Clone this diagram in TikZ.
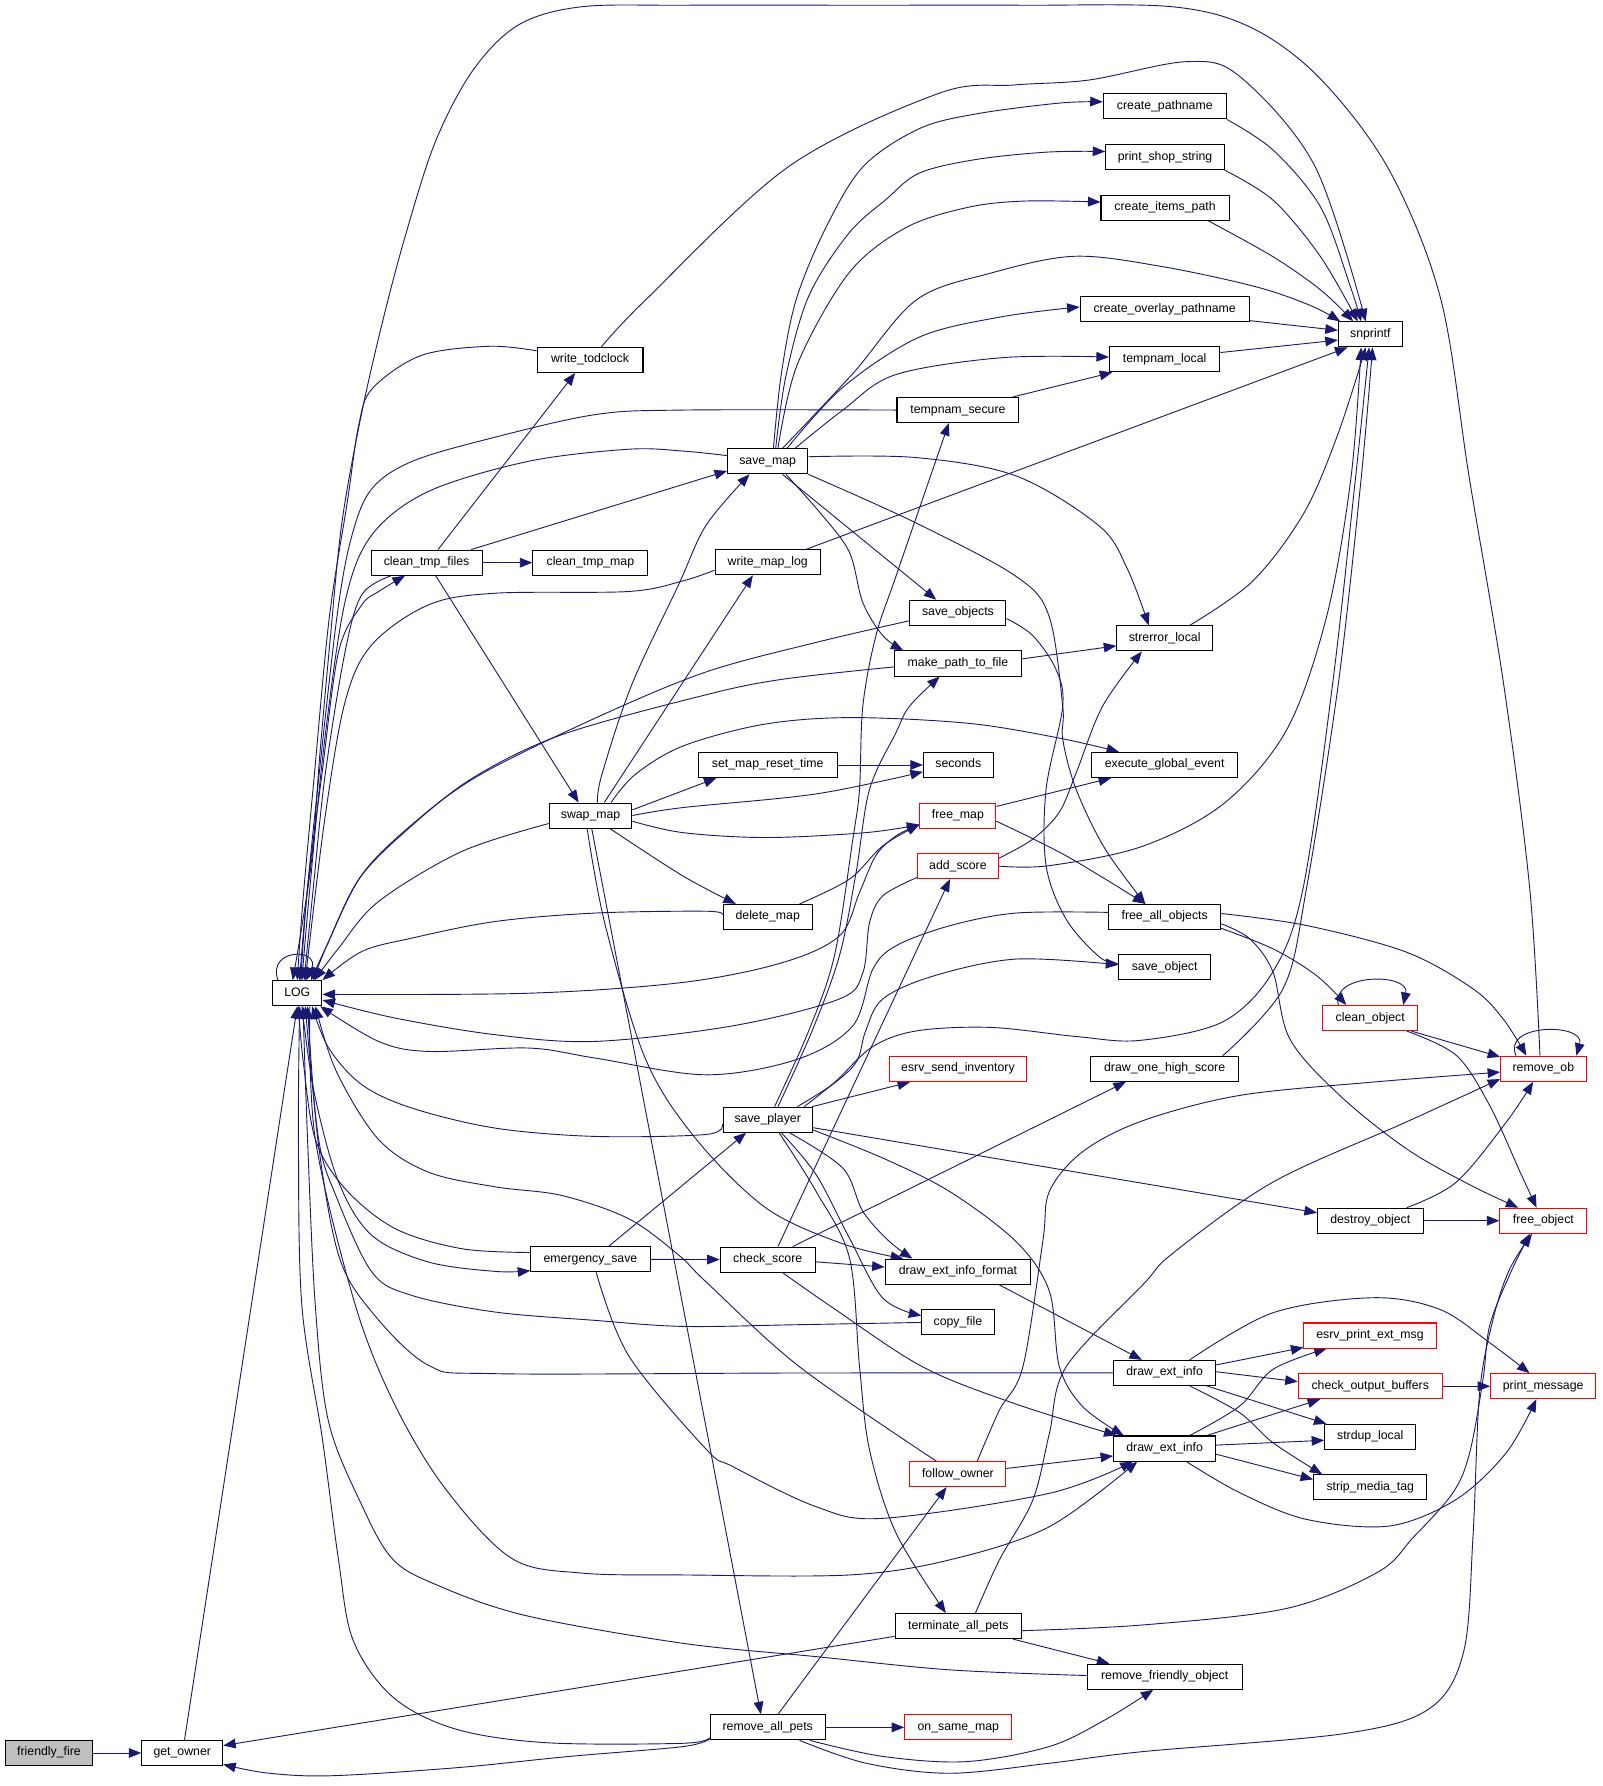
\documentclass[tikz,border=0pt]{standalone}
\usepackage{fontspec}
\setmainfont{Liberation Sans}
\usetikzlibrary{arrows.meta}
\pgfdeclarelayer{bg}
\pgfdeclarelayer{canvas}
\pgfsetlayers{canvas,bg,main}
\definecolor{navy}{HTML}{191970}
\definecolor{gfill}{HTML}{BFBFBF}
\newcommand\edgeP[1]{\draw[e] plot[smooth,tension=0.55] coordinates {#1};}
\begin{document}
\begin{tikzpicture}[x=1pt,y=-1pt,
 box/.style={draw=black, line width=0.9pt, fill=white, minimum height=22pt, inner sep=0pt, text height=7.8pt, text depth=2.6pt, font=\fontsize{10.8}{12}\selectfont},
 rbox/.style={box, draw=red},
 e/.style={draw=navy, line width=0.8pt, line join=round, -{Triangle[length=11pt,width=8.5pt]}}
]
\begin{pgfonlayer}{canvas}
\fill[white] (0,0) rectangle (1407,1568);
\end{pgfonlayer}
\useasboundingbox (0,0) rectangle (1407,1568);
% nodes
\node[box, fill=gfill, minimum width=76pt] (ff) at (43,1539) {friendly\_fire};
\node[box, minimum width=71pt] (go) at (160,1539) {get\_owner};
\node[box, minimum width=43.3pt] (LOG) at (261,872) {LOG};
\node[box, minimum width=93pt] (wtc) at (518,316) {write\_todclock};
\node[box, minimum width=97.4pt] (ctf) at (374.5,494) {clean\_tmp\_files};
\node[box, minimum width=101pt] (ctm) at (518.3,494) {clean\_tmp\_map};
\node[box, minimum width=70.5pt] (smap) at (674,405) {save\_map};
\node[box, minimum width=92.4pt] (wml) at (674,493.6) {write\_map\_log};
\node[box, minimum width=72.5pt] (swap) at (518.5,716) {swap\_map};
\node[box, minimum width=122pt] (smrt) at (674,671.6) {set\_map\_reset\_time};
\node[box, minimum width=78.4pt] (dmap) at (674,805) {delete\_map};
\node[box, minimum width=78.4pt] (sp) at (674,983) {save\_player};
\node[box, minimum width=104.8pt] (es) at (518.4,1105.6) {emergency\_save};
\node[box, minimum width=83.3pt] (cs) at (674,1105.8) {check\_score};
\node[box, minimum width=101pt] (rap) at (674,1516.5) {remove\_all\_pets};
\node[box, minimum width=108pt] (cp) at (1022.6,93.4) {create\_pathname};
\node[box, minimum width=104pt] (pss) at (1022.8,138) {print\_shop\_string};
\node[box, minimum width=112.4pt] (cip) at (1022.8,182.4) {create\_items\_path};
\node[box, minimum width=148.5pt] (cop) at (1022.5,271.5) {create\_overlay\_pathname};
\node[box, minimum width=97pt] (tl) at (1022.5,315.5) {tempnam\_local};
\node[box, minimum width=107pt] (ts) at (841,360) {tempnam\_secure};
\node[box, minimum width=56pt] (snp) at (1203,293.6) {snprintf};
\node[box, minimum width=84.3pt] (sobjs) at (841,538) {save\_objects};
\node[box, minimum width=111.4pt] (mptf) at (841,582.5) {make\_path\_to\_file};
\node[box, minimum width=84pt] (sl) at (1022.5,560.5) {strerror\_local};
\node[box, minimum width=61.2pt] (sec) at (841.3,671.6) {seconds};
\node[box, minimum width=128.6pt] (ege) at (1022.5,671.6) {execute\_global\_event};
\node[rbox, minimum width=66.7pt] (fm) at (841,716) {free\_map};
\node[rbox, minimum width=71.2pt] (as) at (841,760.4) {add\_score};
\node[box, minimum width=98.4pt] (fao) at (1022.5,805) {free\_all\_objects};
\node[box, minimum width=80.4pt] (sobj) at (1022.5,849) {save\_object};
\node[rbox, minimum width=120.5pt] (esi) at (841,938.5) {esrv\_send\_inventory};
\node[box, minimum width=129.4pt] (dohs) at (1022.5,938.3) {draw\_one\_high\_score};
\node[rbox, minimum width=83.3pt] (co) at (1203,893.8) {clean\_object};
\node[rbox, minimum width=75pt] (rob) at (1355,938.3) {remove\_ob};
\node[box, minimum width=92.7pt] (dobj) at (1203,1071.7) {destroy\_object};
\node[rbox, minimum width=76.3pt] (fobj) at (1355,1071.7) {free\_object};
\node[box, minimum width=127.8pt] (dxif) at (841,1116.4) {draw\_ext\_info\_format};
\node[box, minimum width=63.4pt] (cf) at (841,1161) {copy\_file};
\node[box, minimum width=89.6pt] (dei1) at (1022.5,1205.3) {draw\_ext\_info};
\node[box, minimum width=89.6pt] (dei2) at (1022.5,1271.7) {draw\_ext\_info};
\node[rbox, minimum width=84.3pt] (fo) at (841,1294.2) {follow\_owner};
\node[rbox, minimum width=116pt] (epem) at (1202.8,1172.5) {esrv\_print\_ext\_msg};
\node[rbox, minimum width=126.4pt] (cob) at (1203,1217) {check\_output\_buffers};
\node[rbox, minimum width=92.2pt] (pm) at (1354.8,1217) {print\_message};
\node[box, minimum width=80pt] (sdl) at (1203,1261.5) {strdup\_local};
\node[box, minimum width=99.5pt] (smt) at (1203,1305.8) {strip\_media\_tag};
\node[box, minimum width=111.1pt] (tap) at (841.4,1427.6) {terminate\_all\_pets};
\node[box, minimum width=136.2pt] (rfo) at (1022.5,1472) {remove\_friendly\_object};
\node[rbox, minimum width=94pt] (osm) at (841.3,1516.5) {on\_same\_map};
% edges
\begin{pgfonlayer}{bg}
\draw[e] (ff.east) -- (go.west);
\draw[e] ([xshift=2pt]go.north) -- (LOG.south);
\draw[e] ([xshift=-17pt]LOG.north) .. controls (234,832) and (282,832) .. ([xshift=8pt]LOG.north);
\edgeP{([xshift=3pt]LOG.north) (270,780) (282.6,680) (297.3,572) (317.7,531) (332.4,519.3) ([xshift=-19pt]ctf.south)}
\edgeP{([xshift=-31pt]ctf.south) (317.7,522) (303,572) (285.5,680) (275,780) ([xshift=6pt]LOG.north)}
\draw[e] ([xshift=10pt]ctf.north) -- ([xshift=-13pt]wtc.south);
\draw[e] (ctf.east) -- (ctm.west);
\draw[e] ([xshift=39pt]ctf.north) -- ([yshift=3pt]smap.south west);
\draw[e] ([xshift=8pt]ctf.south) -- ([xshift=-10.5pt]swap.north);
\edgeP{([yshift=8pt]wtc.west) (430,304) (370,312) (327,341) (315,373) (305,440) (289,543) (276,680) (266,790) (LOG.north)}
\edgeP{([xshift=10pt]wtc.north) (566.8,263.3) (692.3,146.3) (824.4,81.9) (890.4,74.6) (956.5,70.2) (1042.3,54.1) (1088.6,67.3) (1154.6,146.3) ([xshift=-4pt]snp.north)}
\edgeP{([xshift=-3pt]rob.north) (1343,780) (1320,600) (1290,420) (1265,263) (1220,150) (1160,70) (1100,25) (1030,6) (900,4.6) (765,4.6) (600,4.6) (510,6) (455,22) (415,62) (382,125) (355,210) (334,290) (316,370) (300,460) (290,560) (281,660) (273,760) ([xshift=-4pt]LOG.north)}
\edgeP{([xshift=5pt]smap.north) (686,328) (699,263) (725,200) (758,146) (807,113) (857,100) (930,90.5) ([yshift=4pt]cp.west)}
\edgeP{([xshift=7pt]smap.north) (690,330) (710,260) (745,205) (778,175) (807,152) (857,140) (920,133.5) ([yshift=5pt]pss.west)}
\edgeP{([xshift=9pt]smap.north) (700,320) (745,240) (795,200) (850,182) (900,176.5) ([yshift=5pt]cip.west)}
\edgeP{([xshift=13pt]smap.north) (748.7,328) (804.5,263.3) (869,240) (943,225) (1020,234) (1102,251.6) (1150,268) ([xshift=2pt]snp.north west)}
\edgeP{([xshift=17pt]smap.north) (740,340) (807,296) (880,278) ([yshift=2pt]cop.west)}
\edgeP{([xshift=24pt]smap.north) (740,360) (786,329) (880,314) ([yshift=2pt]tl.west)}
\draw[e] ([xshift=48pt]ts.north) -- ([xshift=-46pt]tl.south);
\edgeP{(ts.west) (600,360) (522.5,364) (430,385) (362,405) (326.5,429) (309,470) (296,540) (278,700) (268,800) ([xshift=2pt]LOG.north)}
\edgeP{([yshift=5pt]smap.west) (599.5,396) (551.8,394.4) (464,405) (376,431.5) (326.5,469.6) (303,528) (285,650) (272,780) ([xshift=4pt]LOG.north)}
\draw[e] ([xshift=13pt]smap.south) -- ([xshift=-19pt]sobjs.north);
\edgeP{([xshift=16pt]smap.south) (722.4,453) (745.8,485) (757.5,529) (775,558) ([xshift=-48pt]mptf.north)}
\edgeP{(smap.south east) (804,459) (892,506) (921,541) (933,620) (933,649) (944.7,692.8) (970,745) ([xshift=-17pt]fao.north)}
\edgeP{([yshift=4pt]smap.east) (804,401.7) (892,417.8) (965,461.7) (990,500) ([xshift=-14pt]sl.north)}
\draw[e] ([xshift=34pt]wml.north) -- ([xshift=-20pt]snp.south);
\edgeP{([yshift=-7pt]wml.west) (599.5,510) (551.8,519.3) (434.8,520.8) (376.3,531) (326.5,566) (303,616) (285,720) ([xshift=7pt]LOG.north)}
\edgeP{([xshift=6pt]swap.north) (528.4,680) (554.7,601) (595.7,513.5) (620,461) ([xshift=-16pt]smap.south)}
\draw[e] ([xshift=12pt]swap.north) -- ([xshift=-13pt]wml.south);
\edgeP{([xshift=18pt]swap.north) (557.6,680) (599.5,655) (670,636) (746,630) (850,635) (930,648) ([xshift=-40pt]ege.north)}
\draw[e] ([yshift=5pt]swap.east) -- ([xshift=-45pt]smrt.south);
\edgeP{(swap.east) (599.5,709) (716.5,697) ([yshift=-6pt]sec.west)}
\edgeP{([yshift=-5pt]swap.east) (599.5,731) (672.6,735.3) (760,731) ([yshift=-8pt]fm.west)}
\edgeP{([xshift=17pt]swap.south) (599.5,769) ([xshift=-28pt]dmap.north)}
\edgeP{([yshift=-7pt]swap.west) (405.5,747.5) (332.4,791.4) (297.3,832.4) ([xshift=15pt]LOG.north)}
\draw[e] ([xshift=1pt]swap.south) -- ([xshift=-6pt]rap.north);
\edgeP{([xshift=-3pt]swap.south) (531.3,812) (566.4,929) (610.3,999) (672.6,1060.6) (740,1092) ([xshift=-48pt]dxif.north)}
\draw[e] (smrt.east) -- (sec.west);
\edgeP{([xshift=28pt]dmap.north) (745.8,771.8) (775,742.6) ([yshift=-8pt]fm.west)}
\edgeP{([yshift=2pt]dmap.west) (619.7,800) (522.5,801.6) (434.8,809) (361.6,823.6) (317.7,835.3) (LOG.north east)}
\draw[e] ([yshift=8pt]fm.east) -- ([xshift=-47pt]ege.south);
\edgeP{([yshift=-5pt]fm.east) (935.9,751.3) ([xshift=-17pt]fao.north)}
\edgeP{([yshift=-8pt]fm.west) (786.7,733.8) (769,751) (754.6,783.5) (737,821.6) (687.3,845) (599.5,862.5) (464,872) ([yshift=-1pt]LOG.east)}
\edgeP{([yshift=7pt]as.east) (906.7,736.7) (930,713) (945,678) (968,620) ([xshift=-20pt]sl.south)}
\edgeP{(as.east) (921,760) (1003,743) (1075,705) (1130,640) (1165,540) (1186,420) ([xshift=-8pt]snp.south)}
\edgeP{([yshift=-10pt]as.west) (775,786.5) (763.4,810) (757.5,854) (737,877) (643.4,900.6) (522.5,914.3) (434.8,908.4) (347,893.8) ([yshift=-6pt]LOG.east)}
\edgeP{([yshift=4pt]fao.west) (892,801.6) (833.6,812.8) (786.7,830.3) (766.3,850.8) (748.7,900.6) (700,930) (619.7,943.6) (522.5,928.9) (464,920.1) (376.3,923.1) (332.4,914.3) ([xshift=-2pt]LOG.south east)}
\edgeP{([yshift=-10pt]fao.east) (1117.6,833) (1155.7,856.4) ([xshift=-21pt]co.north)}
\edgeP{([yshift=3pt]fao.east) (1146.9,812.5) (1234.7,835.9) (1293.2,868.1) (1320,895) ([xshift=-15pt]rob.north)}
\edgeP{([yshift=-6pt]fao.east) (1097.2,824.2) (1117.6,853.4) (1132.3,912) (1176.2,961.7) (1234.7,1008.5) (1290,1040) ([xshift=-22pt]fobj.north)}
\draw[e] ([xshift=-28pt]co.north) .. controls (1168,854) and (1238,854) .. ([xshift=29pt]co.north);
\draw[e] ([xshift=-6pt]co.south east) -- ([yshift=-1pt]rob.north west);
\edgeP{([xshift=-10pt]co.south east) (1278.6,926.6) (1307.8,970.5) (1335,1030) ([xshift=-6pt]fobj.north)}
\draw[e] ([xshift=-24pt]rob.north) .. controls (1318,898) and (1392,898) .. ([xshift=29pt]rob.north);
\edgeP{([xshift=32pt]dobj.north) (1278.6,1037.8) (1322.5,985) ([xshift=-9pt]rob.south)}
\draw[e] (dobj.east) -- (fobj.west);
\edgeP{([yshift=-7pt]sobjs.west) (716.5,564) (619.7,590) (522.5,630.5) (420,681) (361.6,724) (317.7,768) (288.5,826.5) ([xshift=14pt]LOG.north)}
\edgeP{([yshift=-3pt]mptf.west) (687.3,596.3) (619.7,610) (493.3,645) (415,683) (358,728) (315,772) (287,830) ([xshift=12pt]LOG.north)}
\draw[e] ([yshift=4pt]mptf.east) -- ([yshift=-6.5pt]sl.west);
\edgeP{([xshift=22pt]sl.north) (1100,510) (1145,450) (1175,380) ([xshift=-4pt]snp.south)}
\edgeP{([yshift=-5pt]sobjs.east) (906.7,558) (927,587.5) (933,620) (918.4,692.8) (918.4,760) (936,807) (965,840) ([yshift=3pt]sobj.west)}
\edgeP{([xshift=26pt]sp.north) (731,952) (752,932) (760,905) (775,877) (819,857) (892,842) ([yshift=2pt]sobj.west)}
\edgeP{([xshift=32pt]sp.north) (733,950) (766,919) (805,905) (870,902) (945,910) (1000.6,913.4) (1073.7,897) (1117.6,853) (1144,780) (1170,600) (1190,420) ([xshift=-1pt]snp.south)}
\edgeP{([xshift=51pt]dohs.north) (1126.4,868) (1147,780) (1175,600) (1195,420) ([xshift=2pt]snp.south)}
\edgeP{([xshift=6pt]sp.north) (710,905) (732.6,839) (748.7,737) (754.6,693) (757.5,620) (769,558) (786.7,505.6) ([xshift=-8pt]ts.south)}
\edgeP{([xshift=9pt]sp.north) (713,905) (737,839) (751.6,766) (763.4,693) (786.7,643) (798.5,620) ([xshift=-16pt]mptf.south)}
\draw[e] ([xshift=39pt]sp.north) -- ([xshift=-42pt]esi.south);
\draw[e] ([yshift=-7pt]sp.east) -- ([yshift=7pt]dobj.west);
\edgeP{([yshift=-9pt]sp.east) (775,1016.7) (833.6,1046) (892,1090) (921.3,1133.7) (930,1199.6) (950.6,1235) ([xshift=-36pt]dei2.north)}
\edgeP{([xshift=19pt]sp.south) (739.9,1025.5) (757.5,1063.5) (780.9,1090) ([xshift=-40pt]dxif.north)}
\edgeP{([xshift=12pt]sp.south) (716.5,1031.3) (745.8,1087) (775,1139.6) ([yshift=6pt]cf.west)}
\edgeP{([xshift=10pt]sp.south) (716.5,1046) (745.8,1104.5) (754.6,1199.6) (763.4,1273) (786.7,1346) ([xshift=-11pt]tap.north)}
\edgeP{([yshift=-4pt]sp.west) (619.7,996) (522.5,997.7) (434.8,990.4) (361.6,972.8) (317.7,952.3) (288.5,920) ([xshift=13pt]LOG.south)}
\draw[e] (es.east) -- (cs.west);
\draw[e] ([yshift=-2pt]cs.east) -- ([yshift=4pt]dxif.west);
\draw[e] ([xshift=22pt]cs.north) -- ([xshift=-34pt]dohs.south);
\draw[e] ([xshift=9pt]cs.north) -- ([xshift=-7pt]as.south);
\edgeP{([xshift=13pt]cs.south) (731,1148) (810,1200) (890,1232) ([xshift=3pt]dei2.north west)}
\draw[e] ([xshift=16pt]es.north) -- ([xshift=-19pt]sp.south);
\edgeP{([yshift=6pt]es.west) (405.5,1096.3) (347,1078.7) (303,1043.6) (276.8,1000) (266,930) ([xshift=1pt]LOG.south)}
\edgeP{([xshift=4pt]LOG.south) (276,960) (297.3,1037.8) (326.5,1084.6) (376.3,1108) (434.8,1116.2) ([yshift=-10pt]es.west)}
\edgeP{([xshift=5pt]es.south) (551.8,1190) (619.7,1272) (643.4,1287.6) (716.5,1322.8) (775,1333) (921.3,1311) ([xshift=-28pt]dei2.south)}
\edgeP{(cf.west) (700,1163) (599.5,1164.5) (522.5,1159.2) (434.8,1151.9) (361.6,1137.3) (326.5,1116.8) (295,1050) (279.7,1000) ([xshift=7pt]LOG.south)}
\draw[e] ([xshift=36pt]dxif.south) -- ([xshift=-20pt]dei1.north);
\edgeP{(dei1.west) (700,1205.4) (434.8,1206) (376.3,1198.7) (326.5,1151.9) (297.3,1102) (279,1000) ([xshift=9pt]LOG.south)}
\draw[e] ([yshift=7pt]dei1.east) -- ([yshift=1pt]epem.south west);
\draw[e] ([yshift=1pt]dei1.east) -- ([yshift=4pt]cob.west);
\draw[e] ([xshift=37pt]dei1.south) -- ([xshift=2pt]sdl.north west);
\edgeP{([xshift=22pt]dei1.south) (1088.4,1240.3) (1117.6,1266.6) ([xshift=8pt]smt.north west)}
\edgeP{([xshift=22pt]dei1.north) (1117.6,1152.5) (1205.4,1139.3) (1263.9,1149.5) (1307.8,1178.8) ([xshift=-12pt]pm.north)}
\edgeP{([xshift=22pt]dei2.north) (1088.4,1234.4) (1117.6,1202.2) ([xshift=-38pt]epem.south)}
\draw[e] ([xshift=37pt]dei2.north) -- ([xshift=-44pt]cob.south);
\draw[e] ([yshift=3pt]dei2.east) -- ([yshift=-3pt]sdl.west);
\draw[e] ([yshift=-5pt]dei2.east) -- ([yshift=7pt]smt.west);
\edgeP{([xshift=19pt]dei2.south) (1088.4,1310.5) (1146.9,1333.9) (1220,1339.7) (1278.6,1316.3) (1322.5,1275.3) ([xshift=-6pt]pm.south)}
\draw[e] (cob.east) -- (pm.west);
\draw[e] ([yshift=5pt]fo.east) -- ([yshift=-6.5pt]dei2.west);
\edgeP{([xshift=17pt]fo.north) (877.4,1238) (898,1200) (915.5,1090) (921.3,1046) (950.6,1011) (1003,984) (1088.4,961.7) (1205.4,950) ([yshift=-3pt]rob.west)}
\edgeP{([xshift=-19pt]fo.north) (702,1200) (620,1125.5) (596,1102) (552,1070) (493,1049.5) (435,1042) (376,1029) (332,1000) (295,940) ([xshift=16pt]LOG.south)}
\edgeP{([xshift=15pt]tap.north) (877.4,1369.5) (906.7,1317) (921.3,1258.4) (936,1200) (1003.3,1128) (1030,1100) (1117.6,1037.8) (1234.7,985) ([yshift=-9pt]rob.west)}
\draw[e] ([xshift=48pt]tap.south) -- ([xshift=-48.5pt]rfo.north);
\draw[e] ([yshift=-9pt]tap.west) -- ([yshift=6.5pt]go.east);
\edgeP{([yshift=-4pt]tap.east) (1003.3,1426.6) (1130,1412) (1210,1380) (1240.5,1350) (1275.6,1310.5) (1290.3,1275.3) (1302,1211) (1307.8,1164) (1325,1120) ([xshift=-12pt]fobj.south)}
\edgeP{([yshift=1pt]rfo.west) (833.6,1466) (716.5,1454.4) (599.5,1442.7) (460,1418) (380,1390) (344,1368) (317.7,1321.6) (288.5,1248.4) (276.8,1146) (270,1000) ([xshift=5pt]LOG.south)}
\edgeP{([xshift=11pt]LOG.south) (276.8,1000) (312,1146) (347,1234) (391,1307) (449,1368) (510,1381) (599.5,1382.7) (745.8,1382.7) (833.6,1369.5) (921.3,1340.3) ([xshift=-24pt]dei2.south)}
\draw[e] (rap.east) -- (osm.west);
\draw[e] ([xshift=9pt]rap.north) -- ([xshift=-10pt]fo.south);
\edgeP{([xshift=37pt]rap.south) (775,1542) (848,1546.6) (921,1533.4) (970,1510) ([xshift=-10pt]rfo.south)}
\edgeP{([xshift=28pt]rap.south) (760.4,1548) (833.6,1556.8) (921.3,1548) (1003.3,1537.8) (1180,1522) (1255,1500) (1285,1450) (1293.2,1348.5) (1299,1222.7) (1310.8,1158.3) (1325,1115) ([xshift=-10pt]fobj.south)}
\edgeP{([yshift=-9pt]rap.west) (599.5,1530.5) (480,1530) (400,1518) (345,1490) (310,1440) (297,1368) (283,1263) (265,1146) (262,1000) ([xshift=2pt]LOG.south)}
\edgeP{([yshift=-10pt]rap.west) (599.5,1533.4) (500,1542) (400,1552) (290,1559) (234,1556.5) ([yshift=-10pt]go.east)}
\draw[e] ([yshift=6pt]tl.east) -- ([yshift=-5pt]snp.west);
\draw[e] ([yshift=-10pt]cop.east) -- ([yshift=3.6pt]snp.west);
\edgeP{(cp.south east) (1118,132) (1159.5,182) (1185,250) ([xshift=-8pt]snp.north)}
\edgeP{(pss.south east) (1118,176) (1159.5,225.6) ([xshift=-11pt]snp.north)}
\edgeP{([xshift=38pt]cip.south) (1118,225.6) (1160,255) ([xshift=-15pt]snp.north)}
\end{pgfonlayer}
\end{tikzpicture}
\end{document}
